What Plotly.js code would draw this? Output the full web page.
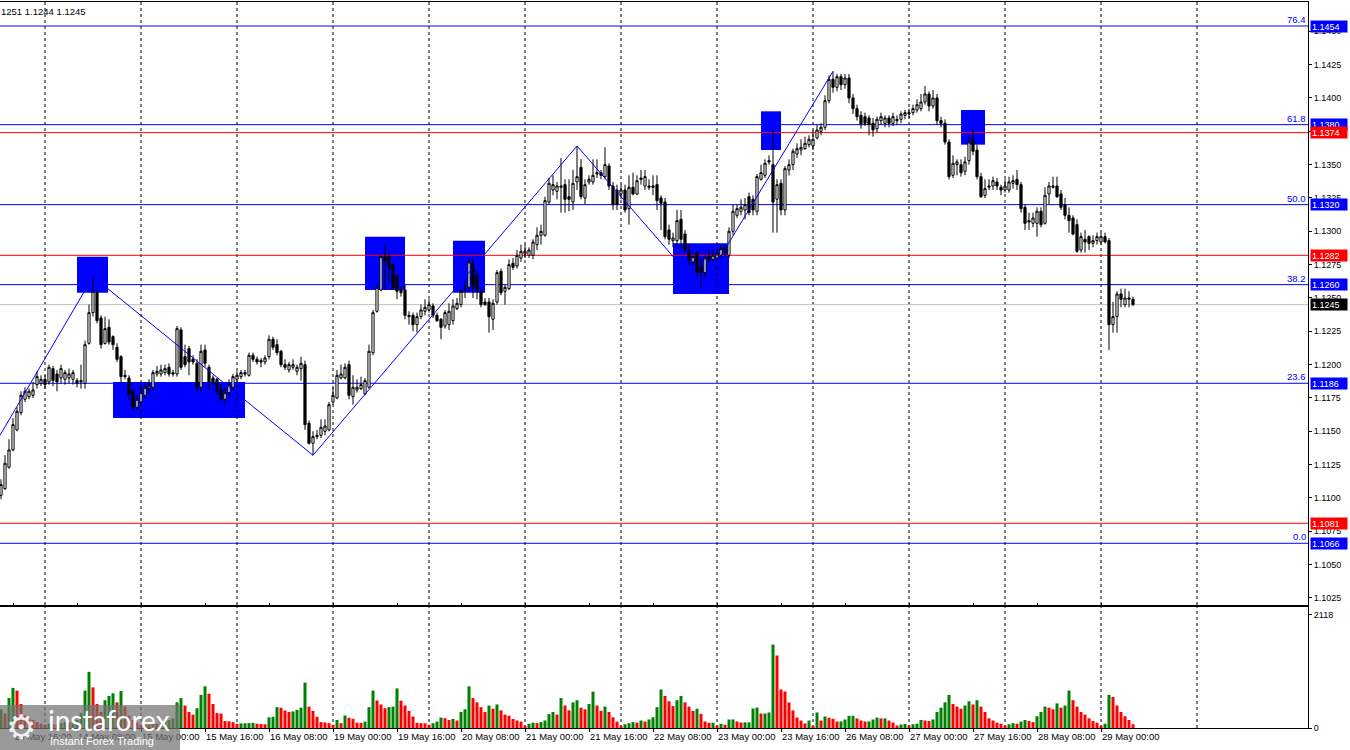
<!DOCTYPE html>
<html><head><meta charset="utf-8">
<script src="https://cdn.plot.ly/plotly-3.0.1.min.js"></script>
<style>html,body{margin:0;padding:0;background:#fff;overflow:hidden}#chart{width:1350px;height:750px}</style>
</head><body><div id="chart"></div>
<script>
// EURUSD H1, bar 0 = 13 May 13:00
const open = [
1.1102,1.1107,1.1123,1.1136,1.1151,1.1164,1.1174,1.1176,1.1177,1.1185,
1.1186,1.1189,1.1187,1.1197,1.1193,1.1190,1.1189,1.1190,1.1189,1.1188,
1.1187,1.1186,1.1216,1.1239,1.1254,1.1235,1.1216,1.1228,1.1221,1.1213,
1.1206,1.1192,1.1190,1.1180,1.1168,1.1172,1.1177,1.1182,1.1183,1.1193,
1.1193,1.1194,1.1198,1.1194,1.1193,1.1226,1.1206,1.1212,1.1204,1.1201,
1.1183,1.1211,1.1198,1.1190,1.1189,1.1181,1.1174,1.1179,1.1183,1.1189,
1.1191,1.1194,1.1192,1.1207,1.1204,1.1203,1.1202,1.1206,1.1219,1.1215,
1.1210,1.1200,1.1196,1.1198,1.1195,1.1197,1.1200,1.1156,1.1141,1.1146,
1.1147,1.1150,1.1151,1.1172,1.1175,1.1190,1.1190,1.1200,1.1176,1.1181,
1.1182,1.1178,1.1183,1.1209,1.1240,1.1256,1.1281,1.1281,1.1275,1.1267,
1.1256,1.1256,1.1237,1.1237,1.1230,1.1236,1.1240,1.1241,1.1244,1.1237,
1.1234,1.1229,1.1230,1.1233,1.1242,1.1245,1.1257,1.1258,1.1276,1.1267,
1.1255,1.1247,1.1247,1.1234,1.1247,1.1270,1.1255,1.1257,1.1276,1.1274,
1.1280,1.1283,1.1282,1.1282,1.1290,1.1297,1.1297,1.1322,1.1331,1.1330,
1.1333,1.1335,1.1326,1.1322,1.1337,1.1348,1.1325,1.1337,1.1337,1.1343,
1.1344,1.1341,1.1349,1.1334,1.1331,1.1328,1.1331,1.1317,1.1333,1.1328,
1.1340,1.1334,1.1334,1.1334,1.1335,1.1325,1.1322,1.1301,1.1293,1.1293,
1.1309,1.1298,1.1285,1.1277,1.1284,1.1273,1.1269,1.1281,1.1279,1.1280,
1.1282,1.1288,1.1282,1.1300,1.1312,1.1315,1.1316,1.1326,1.1324,1.1315,
1.1339,1.1342,1.1353,1.1350,1.1324,1.1336,1.1316,1.1346,1.1350,1.1358,
1.1361,1.1362,1.1365,1.1364,1.1370,1.1375,1.1378,1.1398,1.1414,1.1408,
1.1416,1.1410,1.1415,1.1400,1.1392,1.1387,1.1386,1.1385,1.1381,1.1377,
1.1383,1.1381,1.1385,1.1381,1.1384,1.1384,1.1387,1.1389,1.1389,1.1391,
1.1392,1.1397,1.1403,1.1394,1.1400,1.1383,1.1381,1.1367,1.1342,1.1350,
1.1350,1.1345,1.1353,1.1369,1.1361,1.1341,1.1327,1.1333,1.1334,1.1337,
1.1333,1.1331,1.1331,1.1336,1.1339,1.1335,1.1318,1.1308,1.1306,1.1306,
1.1315,1.1306,1.1328,1.1333,1.1334,1.1328,1.1320,1.1312,1.1310,1.1305,
1.1286,1.1294,1.1296,1.1291,1.1293,1.1292,1.1296,1.1293,1.1230,1.1236,
1.1253,1.1245,1.1249,1.1249];
const high = [
1.1114,1.1132,1.1144,1.1160,1.1168,1.1180,1.1183,1.1182,1.1187,1.1195,
1.1192,1.1192,1.1200,1.1199,1.1196,1.1200,1.1196,1.1197,1.1196,1.1190,
1.1200,1.1218,1.1245,1.1266,1.1256,1.1237,1.1236,1.1234,1.1222,1.1216,
1.1207,1.1196,1.1192,1.1181,1.1177,1.1185,1.1187,1.1189,1.1196,1.1199,
1.1200,1.1200,1.1201,1.1196,1.1229,1.1228,1.1215,1.1214,1.1207,1.1204,
1.1215,1.1215,1.1200,1.1192,1.1190,1.1185,1.1183,1.1189,1.1193,1.1195,
1.1196,1.1196,1.1209,1.1209,1.1206,1.1205,1.1207,1.1222,1.1221,1.1219,
1.1211,1.1204,1.1202,1.1204,1.1200,1.1206,1.1203,1.1158,1.1150,1.1151,
1.1159,1.1159,1.1172,1.1183,1.1196,1.1200,1.1201,1.1203,1.1192,1.1189,
1.1191,1.1190,1.1215,1.1241,1.1260,1.1282,1.1290,1.1285,1.1276,1.1268,
1.1259,1.1260,1.1240,1.1239,1.1239,1.1245,1.1249,1.1249,1.1246,1.1239,
1.1235,1.1241,1.1246,1.1249,1.1250,1.1257,1.1263,1.1280,1.1279,1.1271,
1.1256,1.1250,1.1250,1.1249,1.1271,1.1272,1.1260,1.1279,1.1280,1.1286,
1.1290,1.1290,1.1288,1.1294,1.1303,1.1305,1.1326,1.1340,1.1342,1.1337,
1.1355,1.1339,1.1339,1.1346,1.1364,1.1354,1.1339,1.1342,1.1354,1.1354,
1.1346,1.1363,1.1351,1.1337,1.1335,1.1335,1.1335,1.1342,1.1344,1.1342,
1.1346,1.1346,1.1339,1.1342,1.1342,1.1327,1.1325,1.1305,1.1299,1.1316,
1.1316,1.1301,1.1290,1.1282,1.1286,1.1279,1.1282,1.1286,1.1286,1.1286,
1.1290,1.1290,1.1303,1.1320,1.1320,1.1324,1.1325,1.1329,1.1327,1.1343,
1.1350,1.1354,1.1357,1.1376,1.1339,1.1339,1.1349,1.1354,1.1362,1.1366,
1.1369,1.1371,1.1372,1.1376,1.1380,1.1381,1.1402,1.1417,1.1420,1.1418,
1.1418,1.1418,1.1418,1.1403,1.1395,1.1390,1.1389,1.1387,1.1385,1.1386,
1.1389,1.1387,1.1387,1.1389,1.1387,1.1390,1.1391,1.1392,1.1395,1.1399,
1.1403,1.1409,1.1405,1.1406,1.1403,1.1386,1.1384,1.1369,1.1357,1.1354,
1.1354,1.1356,1.1372,1.1377,1.1365,1.1344,1.1339,1.1339,1.1341,1.1340,
1.1335,1.1339,1.1341,1.1342,1.1346,1.1337,1.1320,1.1314,1.1314,1.1318,
1.1318,1.1333,1.1337,1.1341,1.1341,1.1331,1.1325,1.1318,1.1312,1.1309,
1.1299,1.1301,1.1297,1.1297,1.1299,1.1299,1.1299,1.1295,1.1247,1.1255,
1.1257,1.1257,1.1255,1.1251];
const low = [
1.1099,1.1106,1.1122,1.1135,1.1150,1.1162,1.1172,1.1174,1.1175,1.1182,
1.1184,1.1182,1.1185,1.1184,1.1180,1.1186,1.1185,1.1186,1.1185,1.1183,
1.1182,1.1182,1.1215,1.1236,1.1231,1.1212,1.1215,1.1215,1.1211,1.1202,
1.1185,1.1189,1.1174,1.1166,1.1166,1.1170,1.1175,1.1179,1.1181,1.1191,
1.1191,1.1192,1.1191,1.1191,1.1191,1.1196,1.1198,1.1192,1.1200,1.1181,
1.1179,1.1198,1.1181,1.1185,1.1177,1.1172,1.1170,1.1177,1.1181,1.1187,
1.1189,1.1191,1.1191,1.1202,1.1200,1.1198,1.1200,1.1204,1.1211,1.1207,
1.1198,1.1196,1.1194,1.1196,1.1192,1.1188,1.1151,1.1140,1.1132,1.1144,
1.1145,1.1147,1.1150,1.1170,1.1174,1.1189,1.1189,1.1174,1.1170,1.1179,
1.1181,1.1177,1.1182,1.1207,1.1239,1.1255,1.1256,1.1262,1.1256,1.1249,
1.1251,1.1234,1.1230,1.1225,1.1224,1.1234,1.1237,1.1239,1.1235,1.1232,
1.1219,1.1227,1.1226,1.1230,1.1241,1.1243,1.1250,1.1255,1.1250,1.1249,
1.1243,1.1244,1.1224,1.1226,1.1245,1.1252,1.1245,1.1256,1.1271,1.1272,
1.1277,1.1280,1.1280,1.1279,1.1286,1.1290,1.1296,1.1320,1.1327,1.1324,
1.1314,1.1314,1.1315,1.1316,1.1331,1.1324,1.1320,1.1335,1.1335,1.1340,
1.1339,1.1339,1.1331,1.1316,1.1316,1.1324,1.1314,1.1305,1.1327,1.1327,
1.1335,1.1331,1.1331,1.1327,1.1316,1.1301,1.1294,1.1290,1.1288,1.1290,
1.1288,1.1284,1.1275,1.1275,1.1267,1.1257,1.1265,1.1277,1.1277,1.1279,
1.1280,1.1281,1.1280,1.1297,1.1310,1.1312,1.1309,1.1312,1.1312,1.1312,
1.1338,1.1340,1.1350,1.1299,1.1299,1.1312,1.1312,1.1342,1.1346,1.1355,
1.1357,1.1361,1.1363,1.1361,1.1369,1.1372,1.1376,1.1396,1.1404,1.1405,
1.1406,1.1407,1.1396,1.1388,1.1383,1.1377,1.1379,1.1372,1.1371,1.1374,
1.1380,1.1378,1.1378,1.1379,1.1380,1.1381,1.1384,1.1385,1.1387,1.1389,
1.1390,1.1395,1.1390,1.1392,1.1380,1.1378,1.1365,1.1339,1.1340,1.1342,
1.1341,1.1342,1.1350,1.1357,1.1339,1.1325,1.1325,1.1331,1.1331,1.1331,
1.1327,1.1329,1.1329,1.1332,1.1331,1.1314,1.1301,1.1301,1.1303,1.1296,
1.1303,1.1305,1.1320,1.1332,1.1325,1.1316,1.1309,1.1299,1.1297,1.1284,
1.1284,1.1284,1.1286,1.1288,1.1290,1.1290,1.1291,1.1211,1.1224,1.1224,
1.1243,1.1243,1.1243,1.1244];
const close = [
1.1110,1.1126,1.1136,1.1155,1.1165,1.1177,1.1180,1.1180,1.1181,1.1191,
1.1189,1.1185,1.1198,1.1188,1.1187,1.1197,1.1194,1.1193,1.1194,1.1186,
1.1188,1.1215,1.1239,1.1255,1.1233,1.1215,1.1227,1.1217,1.1215,1.1204,
1.1191,1.1191,1.1178,1.1168,1.1174,1.1179,1.1183,1.1184,1.1194,1.1195,
1.1196,1.1197,1.1193,1.1193,1.1227,1.1198,1.1200,1.1202,1.1202,1.1183,
1.1210,1.1201,1.1187,1.1187,1.1180,1.1174,1.1179,1.1185,1.1191,1.1192,
1.1194,1.1193,1.1207,1.1204,1.1202,1.1202,1.1205,1.1219,1.1213,1.1209,
1.1200,1.1198,1.1200,1.1200,1.1198,1.1201,1.1155,1.1141,1.1146,1.1147,
1.1153,1.1154,1.1170,1.1177,1.1192,1.1193,1.1198,1.1177,1.1183,1.1183,
1.1185,1.1188,1.1210,1.1239,1.1258,1.1281,1.1278,1.1273,1.1257,1.1255,
1.1254,1.1237,1.1236,1.1230,1.1236,1.1241,1.1243,1.1245,1.1237,1.1233,
1.1228,1.1239,1.1240,1.1244,1.1246,1.1255,1.1258,1.1277,1.1259,1.1255,
1.1245,1.1245,1.1236,1.1246,1.1269,1.1254,1.1258,1.1275,1.1273,1.1282,
1.1285,1.1285,1.1286,1.1292,1.1297,1.1300,1.1323,1.1336,1.1335,1.1334,
1.1334,1.1324,1.1324,1.1336,1.1341,1.1326,1.1335,1.1339,1.1342,1.1344,
1.1342,1.1350,1.1334,1.1320,1.1320,1.1331,1.1316,1.1333,1.1328,1.1338,
1.1339,1.1341,1.1333,1.1333,1.1323,1.1321,1.1296,1.1294,1.1295,1.1308,
1.1294,1.1286,1.1279,1.1281,1.1269,1.1269,1.1280,1.1279,1.1282,1.1283,
1.1287,1.1284,1.1300,1.1315,1.1317,1.1318,1.1320,1.1314,1.1316,1.1341,
1.1344,1.1351,1.1352,1.1322,1.1335,1.1316,1.1347,1.1350,1.1360,1.1362,
1.1363,1.1366,1.1369,1.1369,1.1376,1.1378,1.1398,1.1414,1.1408,1.1416,
1.1410,1.1415,1.1400,1.1392,1.1386,1.1380,1.1381,1.1380,1.1376,1.1384,
1.1386,1.1385,1.1381,1.1386,1.1383,1.1388,1.1389,1.1388,1.1392,1.1395,
1.1397,1.1403,1.1394,1.1400,1.1383,1.1381,1.1367,1.1341,1.1351,1.1352,
1.1344,1.1352,1.1367,1.1360,1.1341,1.1326,1.1332,1.1334,1.1338,1.1334,
1.1331,1.1334,1.1337,1.1338,1.1335,1.1317,1.1306,1.1307,1.1310,1.1315,
1.1305,1.1327,1.1334,1.1334,1.1326,1.1318,1.1312,1.1308,1.1298,1.1285,
1.1296,1.1292,1.1291,1.1293,1.1296,1.1296,1.1292,1.1230,1.1236,1.1253,
1.1249,1.1250,1.1250,1.1245];
const volume = [
350,270,560,750,700,450,235,200,150,110,80,
60,80,70,60,90,110,100,140,150,280,700,1050,760,450,300,520,600,650,480,690,400,230,150,100,
60,70,60,90,80,110,120,150,180,480,560,420,300,250,370,620,780,640,450,280,270,130,125,110,
75,85,88,92,95,80,75,70,200,210,390,380,327,300,310,340,380,850,400,320,210,110,105,90,
60,150,90,234,190,172,100,95,120,390,700,514,440,370,390,400,740,510,420,320,215,95,90,88,
60,90,121,196,185,150,170,140,300,350,780,560,480,390,300,420,360,440,330,250,230,170,140,120,
45,80,100,90,110,140,260,300,250,560,420,330,480,520,380,350,450,680,420,320,400,300,200,120,
45,70,90,110,100,140,120,160,200,390,720,600,500,410,520,600,480,400,320,360,265,122,97,99,
47,79,60,159,160,122,103,104,105,365,383,271,272,290,1561,1356,720,683,477,327,196,140,84,140,
41,290,140,215,191,172,122,123,159,228,229,178,140,122,123,159,196,178,179,140,103,47,65,75,
45,70,80,150,140,130,160,300,380,480,620,450,400,360,420,500,440,520,400,300,180,140,100,80,
45,70,90,80,120,150,130,110,220,300,400,380,350,460,380,420,700,520,400,300,250,180,130,100,
45,80,620,580,420,300,220,150,70];

const tickBars = [3,19,35,51,67,83,99,115,131,147,163,179,195,211,227,243,259,275];
const tickLabels = ["13 May 16:00","14 May 08:00","15 May 00:00","15 May 16:00","16 May 08:00",
  "19 May 00:00","19 May 16:00","20 May 08:00","21 May 00:00","21 May 16:00","22 May 08:00",
  "23 May 00:00","23 May 16:00","26 May 08:00","27 May 00:00","27 May 16:00","28 May 08:00","29 May 00:00"];
const dayStartBars = [11,35,59,83,107,131,155,179,203,227,251,275,299];

const fibLevels = [1.1454,1.1380,1.1320,1.1260,1.1186,1.1066];
const fibNames  = ["76.4","61.8","50.0","38.2","23.6","0.0"];
const redLevels = [1.1374,1.1282,1.1081];
const currentPrice = 1.1245;
const headerText = "1251 1.1244 1.1245";

const zigzagBars   = [-0.25,23,78,144,175,208];
const zigzagPrices = [1.1147,1.1266,1.1132,1.1364,1.1257,1.1420];

const zoneFrom = [19,28,91,113,168,190,240];
const zoneTo   = [26.75,61,101,121,182,195,246];
const zoneLow  = [1.1254,1.1160,1.1256,1.1254,1.1253,1.1361,1.1365];
const zoneHigh = [1.1281,1.1187,1.1296,1.1293,1.1291,1.1390,1.1391];

const volMaxLabel = 2118;

// ---------- build ----------
const idx = open.map((_, i) => i);
const XR = [-0.25, 326.75];
const YR = [1.10197, 1.1472];
const VR = [0, 2263];

const volColors = volume.map((v, i) => (i === 0 || v > volume[i-1]) ? '#008000' : '#FF0000');

const traces = [
  {type:'bar', x:idx, y:volume, xaxis:'x', yaxis:'y2', width:0.75,
   marker:{color:volColors, line:{width:0}}, hoverinfo:'skip'},
  {type:'candlestick', x:idx, open:open, high:high, low:low, close:close, xaxis:'x', yaxis:'y',
   increasing:{line:{color:'#000', width:1}, fillcolor:'#FFFFFF'},
   decreasing:{line:{color:'#000', width:1}, fillcolor:'#000000'},
   whiskerwidth:0, hoverinfo:'skip'},
  {type:'scatter', mode:'lines', x:zigzagBars, y:zigzagPrices, xaxis:'x', yaxis:'y',
   line:{color:'#0000FF', width:1}, hoverinfo:'skip'}
];

const shapes = [];
zoneFrom.forEach((f, k) => shapes.push({type:'rect', xref:'x', yref:'y', x0:f, x1:zoneTo[k],
  y0:zoneLow[k], y1:zoneHigh[k], fillcolor:'#0000FF', line:{width:0}, layer:'below'}));
dayStartBars.forEach(b => {
  shapes.push({type:'line', xref:'x', yref:'y', x0:b, x1:b, y0:YR[0], y1:YR[1],
    line:{color:'#000', width:1, dash:'3px,3px'}, layer:'below'});
  shapes.push({type:'line', xref:'x', yref:'y2', x0:b, x1:b, y0:VR[0], y1:VR[1],
    line:{color:'#000', width:1, dash:'3px,3px'}, layer:'below'});
});
fibLevels.forEach(p => shapes.push({type:'line', xref:'x', yref:'y', x0:XR[0], x1:XR[1], y0:p, y1:p,
  line:{color:'#0000FF', width:1}, layer:'below'}));
redLevels.forEach(p => shapes.push({type:'line', xref:'x', yref:'y', x0:XR[0], x1:XR[1], y0:p, y1:p,
  line:{color:'#FF0000', width:1}, layer:'below'}));
shapes.push({type:'line', xref:'x', yref:'y', x0:XR[0], x1:XR[1], y0:currentPrice, y1:currentPrice,
  line:{color:'#C0C0C0', width:1}, layer:'below'});
// watermark box
shapes.push({type:'rect', xref:'paper', yref:'paper', x0:0, x1:180/1308, y0:-22/726, y1:23/726,
  fillcolor:'rgba(115,115,115,0.72)', line:{width:0}, layer:'above'});

const ann = [];
fibLevels.forEach((p, k) => ann.push({xref:'paper', x:1, xanchor:'right', xshift:-1, yref:'y', y:p,
  yanchor:'bottom', text:fibNames[k], showarrow:false, font:{color:'#0000FF', size:9.5}, borderpad:0}));
function priceBox(p, col) {
  ann.push({xref:'paper', x:1, xanchor:'left', xshift:2, yref:'y', y:p, yanchor:'middle',
    text:p.toFixed(4), showarrow:false, bgcolor:col, borderpad:1, width:34, height:9, align:'left',
    font:{color:'#FFFFFF', size:9}});
}
fibLevels.forEach(p => priceBox(p, '#0000FF'));
redLevels.forEach(p => priceBox(p, '#FF0000'));
priceBox(currentPrice, '#000000');
ann.push({xref:'paper', x:0, xanchor:'left', yref:'paper', y:1, yanchor:'top', yshift:-3,
  text:headerText, showarrow:false, font:{size:9.5, color:'#000'}, borderpad:0});
// watermark texts
ann.push({xref:'paper', x:4/1308, xanchor:'left', yref:'paper', y:1/726, yanchor:'middle',
  text:'\u2699', showarrow:false, font:{family:'DejaVu Sans', size:34, color:'rgba(255,255,255,0.9)'}});
ann.push({xref:'paper', x:46/1308, xanchor:'left', yref:'paper', y:8/726, yanchor:'middle',
  text:'instaforex', showarrow:false, font:{family:'Lato, Noto Sans, sans-serif', size:28, color:'#FFFFFF'}});
ann.push({xref:'paper', x:48/1308, xanchor:'left', yref:'paper', y:-13/726, yanchor:'middle',
  text:'Instant Forex Trading', showarrow:false, font:{family:'Liberation Sans, Arial, sans-serif', size:11, color:'#FFFFFF'}});

const layout = {
  width:1350, height:750, margin:{l:0, r:42, t:2, b:22},
  paper_bgcolor:'#FFFFFF', plot_bgcolor:'#FFFFFF',
  showlegend:false, hovermode:false, dragmode:false, boxgap:0.22,
  font:{family:'Liberation Sans, Arial, sans-serif', size:9.5, color:'#000'},
  xaxis:{type:'linear', range:XR, anchor:'y2', tickmode:'array', tickvals:tickBars, ticktext:tickLabels,
    tickangle:0, ticks:'outside', ticklen:3, tickcolor:'#000', showgrid:false, zeroline:false,
    showline:true, linecolor:'#000', linewidth:1, mirror:'all',
    ticklabelposition:'outside right', rangeslider:{visible:false}, tickfont:{size:9.5}, fixedrange:true},
  yaxis:{domain:[123/726, 1], range:YR, side:'right', tickmode:'linear', tick0:1.1025, dtick:0.0025,
    tickformat:'.4f', ticks:'outside', ticklen:3, tickcolor:'#000', showgrid:false, zeroline:false,
    showline:true, linecolor:'#000', linewidth:1, tickfont:{size:9}, fixedrange:true},
  yaxis2:{domain:[0, 121/726], range:VR, side:'right', tickmode:'array', tickvals:[0, volMaxLabel],
    ticktext:['0', String(volMaxLabel)], ticks:'outside', ticklen:3, tickcolor:'#000', showgrid:false,
    zeroline:false, showline:true, linecolor:'#000', linewidth:1, tickfont:{size:9}, fixedrange:true},
  shapes:shapes, annotations:ann
};

Plotly.newPlot('chart', traces, layout, {staticPlot:true, displayModeBar:false});
</script></body></html>
